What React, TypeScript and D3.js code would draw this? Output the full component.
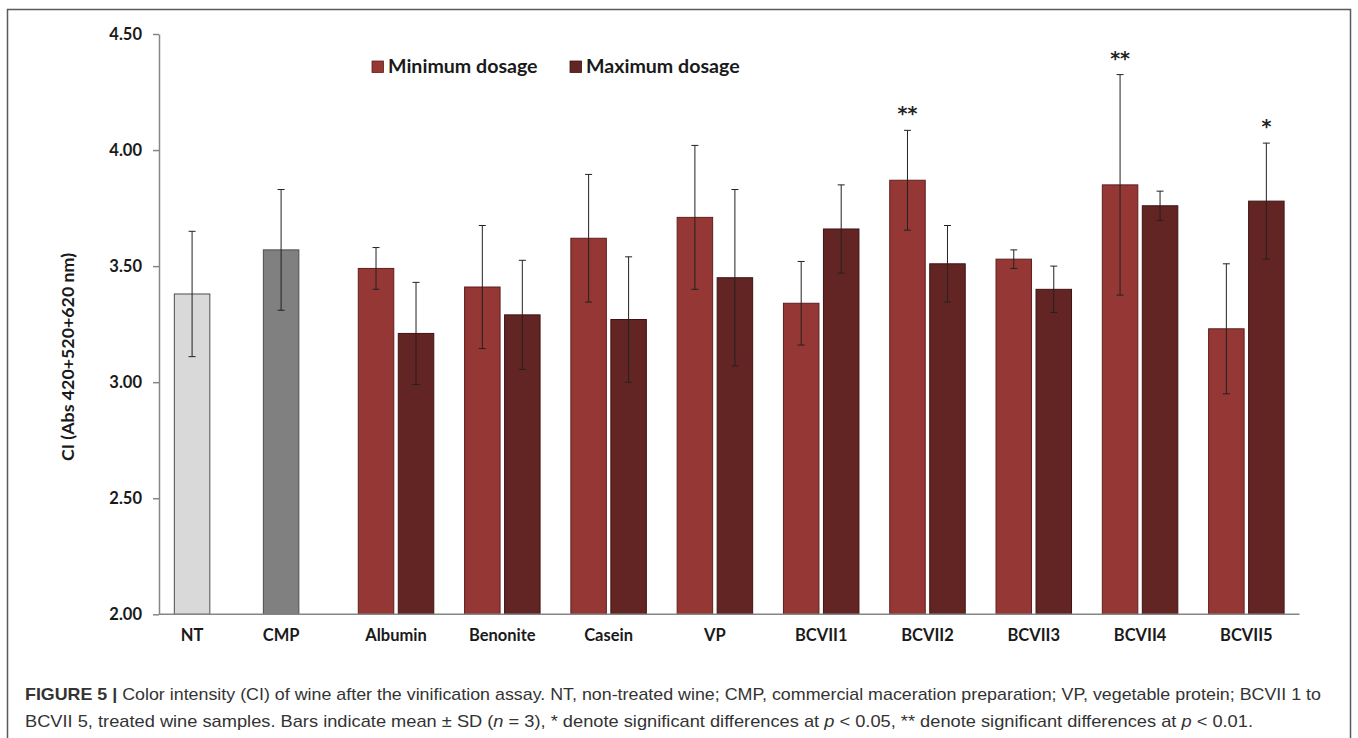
import React, { useRef, useEffect } from 'react';
import * as d3 from 'd3';

// categories along the x axis
const categories = ['NT', 'CMP', 'Albumin', 'Benonite', 'Casein', 'VP', 'BCVII1', 'BCVII2', 'BCVII3', 'BCVII4', 'BCVII5'];
const controls = ['NT', 'CMP'];
const treatments = categories.slice(2);

// controls (single bars)
const controlMeans = [3.38, 3.57];
const controlSD = [0.27, 0.26];
const controlColors = ['#d9d9d9', '#808080'];

// treated samples, minimum / maximum dosage
const minMeans = [3.49, 3.41, 3.62, 3.71, 3.34, 3.87, 3.53, 3.85, 3.23];
const minSD = [0.09, 0.265, 0.275, 0.31, 0.18, 0.215, 0.04, 0.475, 0.28];
const maxMeans = [3.21, 3.29, 3.27, 3.45, 3.66, 3.51, 3.4, 3.76, 3.78];
const maxSD = [0.22, 0.235, 0.27, 0.38, 0.19, 0.165, 0.1, 0.063, 0.25];

const seriesKeys = ['min', 'max'];
const seriesNames = ['Minimum dosage', 'Maximum dosage'];
const seriesColors = ['#953735', '#632523'];
const seriesStrokes = ['#5e1f1d', '#3e1412'];

// significance marks
const sigCategory = ['BCVII2', 'BCVII4', 'BCVII5'];
const sigSeries = ['min', 'min', 'max'];
const sigLabel = ['**', '**', '*'];

const yTicks = [2.0, 2.5, 3.0, 3.5, 4.0, 4.5];

const W = 1358;
const H = 738;
const chartFont = 'Lato, "Open Sans", sans-serif';
const captionFont = '"Liberation Sans", Arial, sans-serif';

interface Bar {
  cat: string;
  key: string;
  mean: number;
  sd: number;
  fill: string;
  stroke: string;
}

const App: React.FC = () => {
  const svgRef = useRef<SVGSVGElement | null>(null);

  useEffect(() => {
    const svg = d3.select(svgRef.current);
    svg.selectAll('*').remove();

    const axisLeftX = 159;
    const plotRight = 1299.5;

    const x = d3.scaleBand<string>().domain(categories).range([130.3, plotRight]).padding(0);
    // the two controls sit a little closer together than the treated groups
    const xc = d3.scaleBand<string>().domain(controls).range([x('NT')!, x('Albumin')!]).paddingInner(0).paddingOuter(0.194);
    const sub = d3.scaleBand<string>().domain(seriesKeys).range([0, x.bandwidth()]).paddingInner(0.1125).paddingOuter(0.385);
    const y = d3.scaleLinear().domain([2, 4.5]).range([614.3, 34]);

    // frame
    svg.append('rect')
      .attr('x', 7.5).attr('y', 9.5)
      .attr('width', 1343).attr('height', 760)
      .attr('fill', 'none').attr('stroke', '#5a5a5a').attr('stroke-width', 1.5);

    // bars data
    const bars: Bar[] = [];
    controls.forEach((c, i) => {
      bars.push({ cat: c, key: 'ctrl', mean: controlMeans[i], sd: controlSD[i], fill: controlColors[i], stroke: '#4d4d4d' });
    });
    treatments.forEach((c, i) => {
      bars.push({ cat: c, key: 'min', mean: minMeans[i], sd: minSD[i], fill: seriesColors[0], stroke: seriesStrokes[0] });
      bars.push({ cat: c, key: 'max', mean: maxMeans[i], sd: maxSD[i], fill: seriesColors[1], stroke: seriesStrokes[1] });
    });

    const bw = sub.bandwidth();
    const barX = (d: Bar) => d.key === 'ctrl'
      ? xc(d.cat)! + xc.bandwidth() / 2 - bw / 2
      : x(d.cat)! + sub(d.key)!;

    const g = svg.append('g');

    g.selectAll('.bar')
      .data(bars)
      .enter()
      .append('rect')
      .attr('class', 'bar')
      .attr('x', d => barX(d))
      .attr('y', d => y(d.mean))
      .attr('width', bw)
      .attr('height', d => y(2) - y(d.mean))
      .attr('fill', d => d.fill)
      .attr('stroke', d => d.stroke)
      .attr('stroke-width', 1);

    // error bars
    const eb = g.selectAll('.err')
      .data(bars)
      .enter()
      .append('g')
      .attr('class', 'err')
      .attr('stroke', '#222')
      .attr('stroke-width', 1);
    eb.append('line')
      .attr('x1', d => barX(d) + bw / 2).attr('x2', d => barX(d) + bw / 2)
      .attr('y1', d => y(d.mean + d.sd)).attr('y2', d => y(d.mean - d.sd));
    eb.append('line')
      .attr('x1', d => barX(d) + bw / 2 - 3.5).attr('x2', d => barX(d) + bw / 2 + 3.5)
      .attr('y1', d => y(d.mean + d.sd)).attr('y2', d => y(d.mean + d.sd));
    eb.append('line')
      .attr('x1', d => barX(d) + bw / 2 - 3.5).attr('x2', d => barX(d) + bw / 2 + 3.5)
      .attr('y1', d => y(d.mean - d.sd)).attr('y2', d => y(d.mean - d.sd));

    // significance stars
    sigCategory.forEach((c, i) => {
      const b = bars.find(d => d.cat === c && d.key === sigSeries[i])!;
      g.append('text')
        .attr('x', barX(b) + bw / 2)
        .attr('y', y(b.mean + b.sd) - 10)
        .attr('text-anchor', 'middle')
        .attr('font-family', '"DejaVu Sans", sans-serif')
        .attr('font-weight', 700)
        .attr('font-size', 19)
        .attr('fill', '#222')
        .text(sigLabel[i]);
    });

    // y axis
    const yAxis = d3.axisLeft(y)
      .tickValues(yTicks)
      .tickSize(6)
      .tickSizeOuter(0)
      .tickPadding(11)
      .tickFormat(d => d3.format('.2f')(d as number));
    const ya = svg.append('g')
      .attr('transform', `translate(${axisLeftX},0)`)
      .call(yAxis);
    ya.select('.domain').attr('stroke', '#868686').attr('stroke-width', 1.5);
    ya.selectAll('.tick line').attr('stroke', '#868686').attr('stroke-width', 1.5);
    ya.selectAll('.tick text')
      .attr('font-family', chartFont)
      .attr('font-weight', 700)
      .attr('font-size', 16.5)
      .attr('fill', '#1a1a1a');

    // x axis: treated groups and controls
    const xa = svg.append('g')
      .attr('transform', `translate(0,${y(2)})`)
      .call(d3.axisBottom(x).tickValues(treatments).tickSize(0).tickPadding(15));
    xa.select('.domain').remove();
    const xca = svg.append('g')
      .attr('transform', `translate(0,${y(2)})`)
      .call(d3.axisBottom(xc).tickSize(0).tickPadding(15));
    xca.select('.domain').remove();
    xa.append('line')
      .attr('x1', axisLeftX).attr('x2', plotRight)
      .attr('y1', 0).attr('y2', 0)
      .attr('stroke', '#868686').attr('stroke-width', 1.5);
    [xa, xca].forEach(ax => ax.selectAll('.tick text')
      .attr('font-family', chartFont)
      .attr('font-weight', 700)
      .attr('font-size', 16.5)
      .attr('fill', '#1a1a1a'));

    // y title
    svg.append('text')
      .attr('transform', 'translate(67,357) rotate(-90)')
      .attr('text-anchor', 'middle')
      .attr('dominant-baseline', 'central')
      .attr('font-family', chartFont)
      .attr('font-weight', 700)
      .attr('font-size', 17.8)
      .attr('fill', '#1a1a1a')
      .text('CI (Abs 420+520+620 nm)');

    // legend
    const legendX = [372, 570];
    seriesNames.forEach((name, i) => {
      svg.append('rect')
        .attr('x', legendX[i]).attr('y', 61)
        .attr('width', 11.5).attr('height', 11.5)
        .attr('fill', seriesColors[i])
        .attr('stroke', seriesStrokes[i]).attr('stroke-width', 0.8);
      svg.append('text')
        .attr('x', legendX[i] + 16).attr('y', 73)
        .attr('font-family', chartFont)
        .attr('font-weight', 700)
        .attr('font-size', 19.6)
        .attr('fill', '#1a1a1a')
        .text(name);
    });

    // caption
    const cap1 = svg.append('text')
      .attr('x', 25).attr('y', 700)
      .attr('font-family', captionFont)
      .attr('font-size', 17)
      .attr('fill', '#333')
      .attr('textLength', 1296)
      .attr('lengthAdjust', 'spacingAndGlyphs');
    cap1.append('tspan').attr('font-weight', 700).text('FIGURE 5 |');
    cap1.append('tspan').text(' Color intensity (CI) of wine after the vinification assay. NT, non-treated wine; CMP, commercial maceration preparation; VP, vegetable protein; BCVII 1 to');

    const cap2 = svg.append('text')
      .attr('x', 25).attr('y', 727)
      .attr('font-family', captionFont)
      .attr('font-size', 17)
      .attr('fill', '#333')
      .attr('textLength', 1228)
      .attr('lengthAdjust', 'spacingAndGlyphs');
    cap2.append('tspan').text('BCVII 5, treated wine samples. Bars indicate mean \u00b1 SD (');
    cap2.append('tspan').attr('font-style', 'italic').text('n');
    cap2.append('tspan').text(' = 3), * denote significant differences at ');
    cap2.append('tspan').attr('font-style', 'italic').text('p');
    cap2.append('tspan').text(' < 0.05, ** denote significant differences at ');
    cap2.append('tspan').attr('font-style', 'italic').text('p');
    cap2.append('tspan').text(' < 0.01.');
  }, []);

  return (
    <svg
      ref={svgRef}
      width={W}
      height={H}
      style={{ position: 'absolute', left: 0, top: 0, background: '#fff' }}
    />
  );
};

export default App;
